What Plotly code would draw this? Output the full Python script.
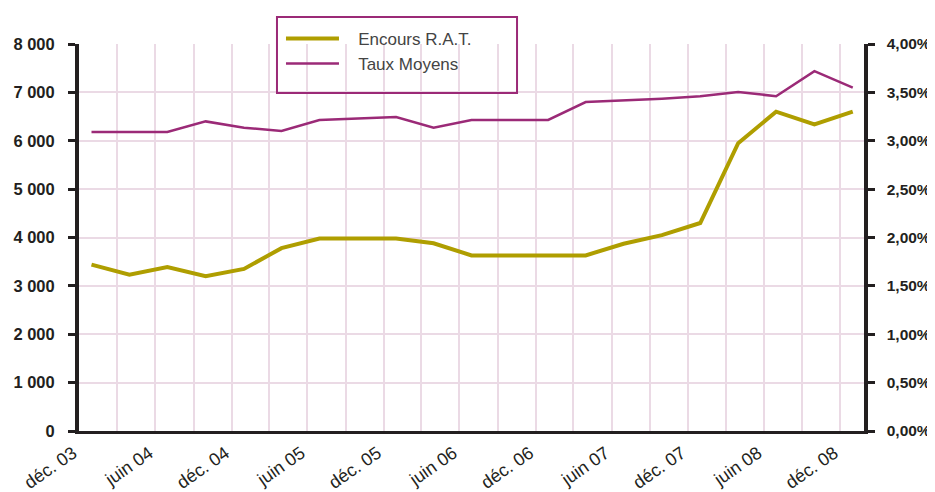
import plotly.graph_objects as go

# quarterly observations, déc. 03 -> déc. 08
dates = [
    "2003-12-31", "2004-03-31", "2004-06-30", "2004-09-30",
    "2004-12-31", "2005-03-31", "2005-06-30", "2005-09-30",
    "2005-12-31", "2006-03-31", "2006-06-30", "2006-09-30",
    "2006-12-31", "2007-03-31", "2007-06-30", "2007-09-30",
    "2007-12-31", "2008-03-31", "2008-06-30", "2008-09-30",
    "2008-12-31",
]
encours = [3440, 3230, 3390, 3200, 3350, 3780, 3980, 3980, 3980, 3880, 3630,
           3630, 3630, 3630, 3870, 4050, 4300, 5950, 6600, 6340, 6600]
taux_pct = [3.09, 3.09, 3.09, 3.20, 3.135, 3.10, 3.215, 3.23, 3.245, 3.135, 3.215,
            3.215, 3.215, 3.40, 3.415, 3.435, 3.46, 3.505, 3.46, 3.72, 3.55]
taux = [v / 100 for v in taux_pct]

tick_dates = ["2003-12-01", "2004-06-01", "2004-12-01", "2005-06-01", "2005-12-01",
              "2006-06-01", "2006-12-01", "2007-06-01", "2007-12-01", "2008-06-01",
              "2008-12-01"]
tick_labels = ["déc. 03", "juin 04", "déc. 04", "juin 05", "déc. 05", "juin 06",
               "déc. 06", "juin 07", "déc. 07", "juin 08", "déc. 08"]

GOLD = "#AF9E00"
PURPLE = "#9B2A77"
GRID = "#EBDAE5"
INK = "#231F20"
FONT = "Liberation Sans, Arial, sans-serif"
PAD = "\u00a0\u00a0\u00a0"  # push legend text right of the line sample

fig = go.Figure()
fig.add_trace(go.Scatter(x=dates, y=encours, name=PAD + "Encours R.A.T.", mode="lines",
                         line=dict(color=GOLD, width=4)))
fig.add_trace(go.Scatter(x=dates, y=taux, name=PAD + "Taux Moyens", mode="lines",
                         line=dict(color=PURPLE, width=2.5), yaxis="y2"))

# page body adds an 8px margin, so the figure is 8px smaller than the window
fig.update_layout(
    width=927, height=484,
    margin=dict(l=71, r=71, t=36, b=61),
    paper_bgcolor="white", plot_bgcolor="white",
    separators=", ",
    font=dict(family=FONT, color=INK),
    showlegend=True,
    legend=dict(x=0.2573, y=1.0595, xanchor="left", yanchor="top",
                bgcolor="rgba(0,0,0,0)", borderwidth=0,
                font=dict(size=17, color="#444444"),
                itemwidth=53, tracegroupgap=0),
    xaxis=dict(
        type="date", range=["2003-12-01", "2009-01-27"],
        tickmode="array", tickvals=tick_dates, ticktext=tick_labels,
        tickangle=-35, tickfont=dict(size=18, color=INK),
        ticks="", ticklabelstandoff=2, ticklabelshift=-6, automargin=False,
        showgrid=True, gridcolor=GRID, gridwidth=2,
        minor=dict(dtick="M3", tick0="2003-12-01", showgrid=True,
                   gridcolor=GRID, gridwidth=2),
        showline=True, linecolor=INK, linewidth=2.5,
        zeroline=False, fixedrange=True,
    ),
    yaxis=dict(
        range=[0, 8000], dtick=1000, tickformat=",d",
        tickfont=dict(size=16.5, color=INK, weight="bold"),
        ticks="outside", ticklen=7, tickwidth=3, tickcolor=INK,
        ticklabelstandoff=10, automargin=False,
        showgrid=True, gridcolor=GRID, gridwidth=2,
        showline=True, linecolor=INK, linewidth=4,
        zeroline=False,
    ),
    yaxis2=dict(
        overlaying="y", side="right",
        range=[0, 0.04], dtick=0.005, tickformat=".2%",
        tickprefix="\u00a0\u00a0",
        tickfont=dict(size=15.5, color=INK, weight="bold"),
        ticks="outside", ticklen=7, tickwidth=3, tickcolor=INK,
        ticklabelstandoff=0, automargin=False,
        showgrid=False,
        showline=True, linecolor=INK, linewidth=4,
        zeroline=False,
    ),
    shapes=[dict(type="rect", xref="paper", yref="paper",
                 x0=0.2522, x1=0.5580, y0=0.8734, y1=1.0698,
                 line=dict(color=PURPLE, width=2), fillcolor="rgba(0,0,0,0)",
                 layer="above")],
)

fig.write_html("out.html")
